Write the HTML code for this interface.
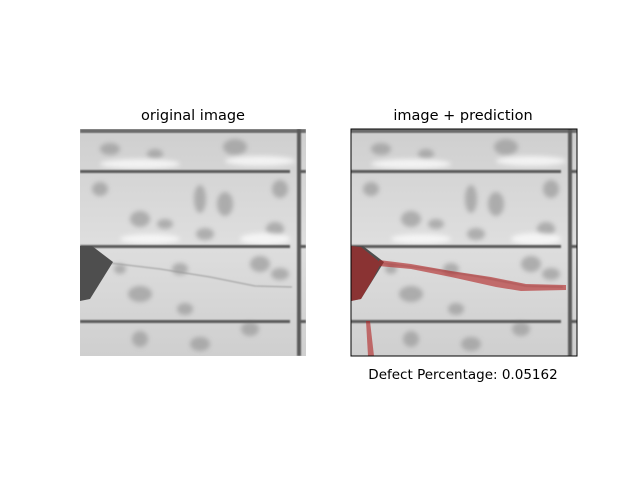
<!DOCTYPE html>
<html><head><style>
body{margin:0;background:#fff;}
svg text{font-family:"DejaVu Sans","Liberation Sans",sans-serif;}
</style></head><body>
<svg width="640" height="480" viewBox="0 0 640 480" xmlns="http://www.w3.org/2000/svg">
<defs>
<filter id="bl"><feGaussianBlur stdDeviation="2.5"/></filter>
<filter id="bl1"><feGaussianBlur stdDeviation="0.8"/></filter>
<linearGradient id="bg" x1="0" y1="0" x2="0" y2="1">
<stop offset="0" stop-color="#cfcfcf"/><stop offset="0.5" stop-color="#dedede"/><stop offset="1" stop-color="#cfcfcf"/>
</linearGradient>
<clipPath id="cp"><rect x="0" y="0" width="226" height="227"/></clipPath>
<g id="cell" clip-path="url(#cp)">
<rect x="0" y="0" width="226" height="227" fill="url(#bg)"/>
<g filter="url(#bl)" fill="#9a9a9a" opacity="0.7">
<ellipse cx="30" cy="20" rx="10" ry="6"/><ellipse cx="75" cy="25" rx="8" ry="5"/><ellipse cx="155" cy="18" rx="12" ry="8"/>
<ellipse cx="20" cy="60" rx="8" ry="7"/><ellipse cx="60" cy="90" rx="10" ry="8"/><ellipse cx="85" cy="95" rx="8" ry="5"/>
<ellipse cx="120" cy="70" rx="6" ry="14"/><ellipse cx="125" cy="105" rx="9" ry="6"/><ellipse cx="145" cy="75" rx="8" ry="12"/>
<ellipse cx="200" cy="60" rx="8" ry="9"/><ellipse cx="180" cy="135" rx="10" ry="8"/><ellipse cx="200" cy="145" rx="9" ry="6"/>
<ellipse cx="60" cy="165" rx="12" ry="8"/><ellipse cx="105" cy="180" rx="8" ry="6"/><ellipse cx="170" cy="200" rx="9" ry="7"/>
<ellipse cx="60" cy="210" rx="8" ry="8"/><ellipse cx="120" cy="215" rx="10" ry="7"/><ellipse cx="40" cy="140" rx="6" ry="5"/>
<ellipse cx="195" cy="100" rx="9" ry="7"/><ellipse cx="100" cy="140" rx="8" ry="6"/>
</g>
<g filter="url(#bl)" fill="#fafafa" opacity="0.8">
<ellipse cx="60" cy="35" rx="40" ry="5"/><ellipse cx="180" cy="32" rx="35" ry="5"/><ellipse cx="70" cy="110" rx="30" ry="5"/><ellipse cx="185" cy="110" rx="25" ry="6"/>
</g>
<rect x="0" y="0" width="226" height="4" fill="#6a6a6a" filter="url(#bl1)"/>
<g fill="#5a5a5a" filter="url(#bl1)">
<rect x="0" y="41" width="210" height="3"/><rect x="0" y="116" width="210" height="3"/><rect x="0" y="191" width="210" height="3"/>
<rect x="220" y="41" width="6" height="3"/><rect x="220" y="116" width="6" height="3"/><rect x="220" y="191" width="6" height="3"/>
<rect x="217" y="0" width="4" height="227"/>
</g>
<polyline points="30,134 80,140 130,148 175,157 212,158" fill="none" stroke="#999" stroke-width="1" filter="url(#bl1)"/>
<polygon points="0,117 12,117 33,133 10,170 0,172" fill="#4e4e4e"/>
</g>
</defs>

<text x="193" y="120" font-size="14.5" text-anchor="middle">original image</text>
<g transform="translate(80,129)"><use href="#cell"/></g>

<text x="463" y="120" font-size="14.5" text-anchor="middle">image + prediction</text>
<g transform="translate(351,129)">
<use href="#cell"/>
<g fill="#b22222" opacity="0.6">
<polygon points="0,117 10,118 30,134 22,150 10,170 0,172"/>
<polygon points="28,131 60,135 100,142 140,148 175,155 215,156 215,161 170,162 145,158 100,148 60,140 28,137"/>
<polygon points="15,192 19,192 23,227 17,227"/>
</g>
<rect x="0" y="0" width="226" height="227" fill="none" stroke="#000" stroke-width="1"/>
</g>
<text x="463" y="379" font-size="13.5" text-anchor="middle">Defect Percentage: 0.05162</text>
</svg>
</body></html>
